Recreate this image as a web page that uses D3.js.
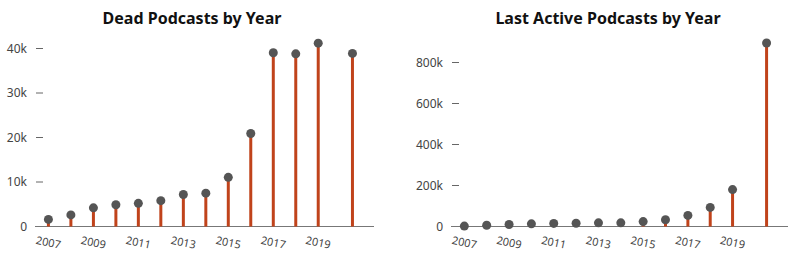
<!DOCTYPE html>
<html>
<meta charset="utf-8">
<script src="https://d3js.org/d3.v7.js"></script>
<style>
  body { margin: 0; background: #fff; }
  text { font-family: "Noto Sans", "Open Sans", sans-serif; }
</style>
<body>
<div id="my_dataviz"></div>
</body>
<script type="text/javascript">
  // years (last point sits mid-2020 in the source)
  var years = ["2007-01-01","2008-01-01","2009-01-01","2010-01-01","2011-01-01","2012-01-01",
               "2013-01-01","2014-01-01","2015-01-01","2016-01-01","2017-01-01","2018-01-01",
               "2019-01-01","2020-07-10"]
  var deadCounts = [1600, 2600, 4200, 4900, 5200, 5800, 7200, 7500, 11050, 20900, 39050, 38800, 41200, 38900]
  var lastActiveCounts = [2000, 6000, 10000, 13000, 15000, 16000, 18000, 18000, 24000, 33000, 54000, 93000, 180000, 895000]
  var deadTicks = [0, 10000, 20000, 30000, 40000]
  var activeTicks = [0, 200000, 400000, 600000, 800000]
  var yearTicks = [2007, 2009, 2011, 2013, 2015, 2017, 2019]

  var parse = d3.timeParse("%Y-%m-%d")
  var dates = years.map(parse)

  var svg = d3.select("#my_dataviz")
    .append("svg")
      .attr("width", 800)
      .attr("height", 261)

  function fmtK(v) { return v === 0 ? "0" : (v / 1000) + "k" }

  function draw(cfg) {
    var g = svg.append("g").attr("transform", "translate(" + cfg.left + ",0)")
    var width = cfg.width

    var x = d3.scaleTime()
      .domain([parse("2006-05-28"), parse("2021-06-25")])
      .range([0, width])
    var y = d3.scaleLinear()
      .domain([0, cfg.yMax])
      .range([226.5, cfg.yTop])

    // title
    g.append("text")
      .attr("x", cfg.titleX)
      .attr("y", 24)
      .attr("text-anchor", "middle")
      .style("font-size", "16px")
      .style("font-weight", "bold")
      .style("fill", "#111")
      .text(cfg.title)

    // y ticks: label, gap, short dash
    var yt = g.append("g")
    yt.selectAll("text")
      .data(cfg.ticks)
      .enter()
      .append("text")
        .attr("x", -8)
        .attr("y", function(d) { return y(d) })
        .attr("dy", "0.35em")
        .attr("text-anchor", "end")
        .style("font-size", "12px")
        .style("fill", "#444")
        .text(fmtK)
    yt.selectAll("line")
      .data(cfg.ticks)
      .enter()
      .append("line")
        .attr("x1", 1)
        .attr("x2", 8)
        .attr("y1", function(d) { return y(d) })
        .attr("y2", function(d) { return y(d) })
        .style("stroke", "#666")
        .style("stroke-width", 1)

    // x axis line
    g.append("line")
      .attr("x1", 0)
      .attr("x2", width)
      .attr("y1", y(0))
      .attr("y2", y(0))
      .style("stroke", "#777")
      .style("stroke-width", 1.2)

    // x tick labels, slightly rotated
    g.selectAll(".xlab")
      .data(yearTicks)
      .enter()
      .append("text")
        .attr("class", "xlab")
        .attr("transform", function(d) {
          return "translate(" + x(new Date(d, 0, 1)) + "," + (y(0) + 16) + ") rotate(12)"
        })
        .attr("text-anchor", "middle")
        .attr("dy", "0.35em")
        .style("font-size", "11px")
        .style("fill", "#444")
        .text(function(d) { return d })

    var data = dates.map(function(d, i) { return {date: d, value: cfg.values[i]} })

    // stems
    g.selectAll(".stem")
      .data(data)
      .enter()
      .append("line")
        .attr("class", "stem")
        .attr("x1", function(d) { return x(d.date) })
        .attr("x2", function(d) { return x(d.date) })
        .attr("y1", y(0))
        .attr("y2", function(d) { return y(d.value) })
        .style("stroke", "#c0431b")
        .style("stroke-width", 3)

    // dots
    g.selectAll(".dot")
      .data(data)
      .enter()
      .append("circle")
        .attr("class", "dot")
        .attr("cx", function(d) { return x(d.date) })
        .attr("cy", function(d) { return y(d.value) })
        .attr("r", 4.5)
        .style("fill", "#555")
  }

  draw({title: "Dead Podcasts by Year", left: 35, width: 339, titleX: 157,
        values: deadCounts, ticks: deadTicks, yMax: 40000, yTop: 48.5})
  draw({title: "Last Active Podcasts by Year", left: 451, width: 337, titleX: 157,
        values: lastActiveCounts, ticks: activeTicks, yMax: 800000, yTop: 62.5})
</script>
</html>
